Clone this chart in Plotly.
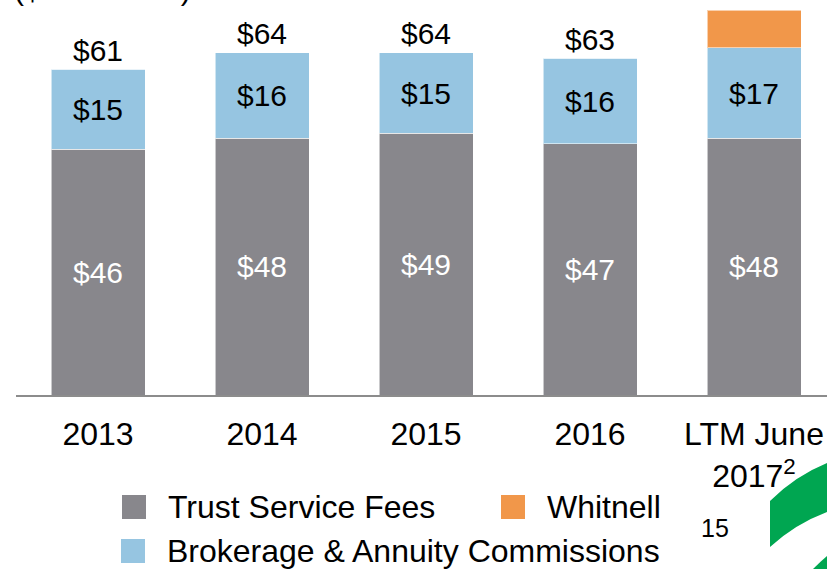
import plotly.graph_objects as go

# ---- data ----
categories = ["2013", "2014", "2015", "2016", "LTM June<br>2017<sup>2</sup>"]
trust_fees = [46, 48, 49, 47, 48]
brokerage = [15, 16, 15, 16, 17]
whitnell = [0, 0, 0, 0, 7]
total_labels = ["$61", "$64", "$64", "$63", ""]

# ---- layout geometry (pixels) ----
W, H = 827, 569
ML, MR, MT, MB = 16, 0, 0, 174
PW, PH = W - ML - MR, H - MT - MB
XSTEP = 164.0
X_MIN = -0.5
X_MAX = X_MIN + PW / XSTEP
Y_MAX = PH / 5.344

def px(x):
    return (x - ML) / PW

def py(y):
    return (H - MB - y) / PH

GRAY = "#88878c"
BLUE = "#96c5e1"
ORANGE = "#f1974a"
GREEN = "#00a651"
FONT = "Liberation Sans, Arial, sans-serif"

xs = list(range(len(categories)))
totals = [t + b + w for t, b, w in zip(trust_fees, brokerage, whitnell)]

fig = go.Figure()
edge = dict(color="rgba(255,255,255,0.55)", width=1)
fig.add_trace(go.Bar(
    x=xs, y=trust_fees, name="Trust Service Fees", marker=dict(color=GRAY, line=edge),
    width=94 / XSTEP, text=[f"${v}" for v in trust_fees], textposition="inside",
    insidetextanchor="middle", textangle=0,
    textfont=dict(color="white", size=30, family=FONT), showlegend=False,
))
fig.add_trace(go.Bar(
    x=xs, y=brokerage, name="Brokerage & Annuity Commissions", marker=dict(color=BLUE, line=edge),
    width=94 / XSTEP, text=[f"${v}" for v in brokerage], textposition="inside",
    insidetextanchor="middle", textangle=0,
    textfont=dict(color="black", size=30, family=FONT), showlegend=False,
))
fig.add_trace(go.Bar(
    x=xs, y=whitnell, name="Whitnell", marker=dict(color=ORANGE, line=edge),
    width=94 / XSTEP, showlegend=False, hoverinfo="name+y",
))

annotations = []
for x, t, lab in zip(xs, totals, total_labels):
    if lab:
        annotations.append(dict(
            x=x, y=t, xref="x", yref="y", text=lab, showarrow=False,
            yanchor="middle", yshift=19, font=dict(size=30, color="black", family=FONT),
        ))

# header (cut off at top in reference)
annotations.append(dict(
    x=px(12), y=py(-11), xref="paper", yref="paper", text="($ in millions)",
    showarrow=False, xanchor="left", yanchor="middle",
    font=dict(size=30, color="black", family=FONT),
))

# manual legend
legend_items = [
    ("Trust Service Fees", GRAY, 122, 507),
    ("Whitnell", ORANGE, 501, 507),
    ("Brokerage & Annuity Commissions", BLUE, 121, 551),
]
shapes = []
for name, col, lx, ly in legend_items:
    shapes.append(dict(
        type="rect", xref="paper", yref="paper",
        x0=px(lx), x1=px(lx + 24), y0=py(ly - 12), y1=py(ly + 12),
        fillcolor=col, line=dict(width=0),
    ))
    annotations.append(dict(
        x=px(lx + 44), y=py(ly), xref="paper", yref="paper", text=name,
        showarrow=False, xanchor="left", yanchor="middle",
        font=dict(size=32, color="black", family=FONT),
    ))

# page number
annotations.append(dict(
    x=px(715), y=py(528), xref="paper", yref="paper", text="15",
    showarrow=False, xanchor="center", yanchor="middle",
    font=dict(size=25, color="black", family=FONT),
))

# decorative green swoosh
p1 = (f"M {px(770)},{py(501)} Q {px(795)},{py(476)} {px(827)},{py(463)} "
      f"L {px(827)},{py(512)} Q {px(795)},{py(524)} {px(770)},{py(547)} Z")
p2 = (f"M {px(813)},{py(569)} Q {px(820)},{py(562)} {px(827)},{py(556)} "
      f"L {px(827)},{py(569)} Z")
for p in (p1, p2):
    shapes.append(dict(type="path", xref="paper", yref="paper", path=p,
                       fillcolor=GREEN, line=dict(width=0), layer="above"))

fig.update_layout(
    width=W, height=H, barmode="stack",
    margin=dict(l=ML, r=MR, t=MT, b=MB, pad=0),
    paper_bgcolor="white", plot_bgcolor="white",
    font=dict(family=FONT, color="black"),
    xaxis=dict(
        range=[X_MIN, X_MAX], tickmode="array", tickvals=xs, ticktext=categories,
        showline=True, linecolor="#8c8c8c", linewidth=2, showgrid=False,
        zeroline=False, ticks="", tickfont=dict(size=32, color="black", family=FONT),
        ticklabelstandoff=10,
    ),
    yaxis=dict(range=[0, Y_MAX], visible=False, showgrid=False, zeroline=False),
    shapes=shapes, annotations=annotations, showlegend=False,
)

fig.write_html(
    "out.html",
    config={"displayModeBar": False},
    post_script="document.body.style.margin='0';document.body.style.padding='0';"
                "document.body.style.overflow='hidden';",
)
